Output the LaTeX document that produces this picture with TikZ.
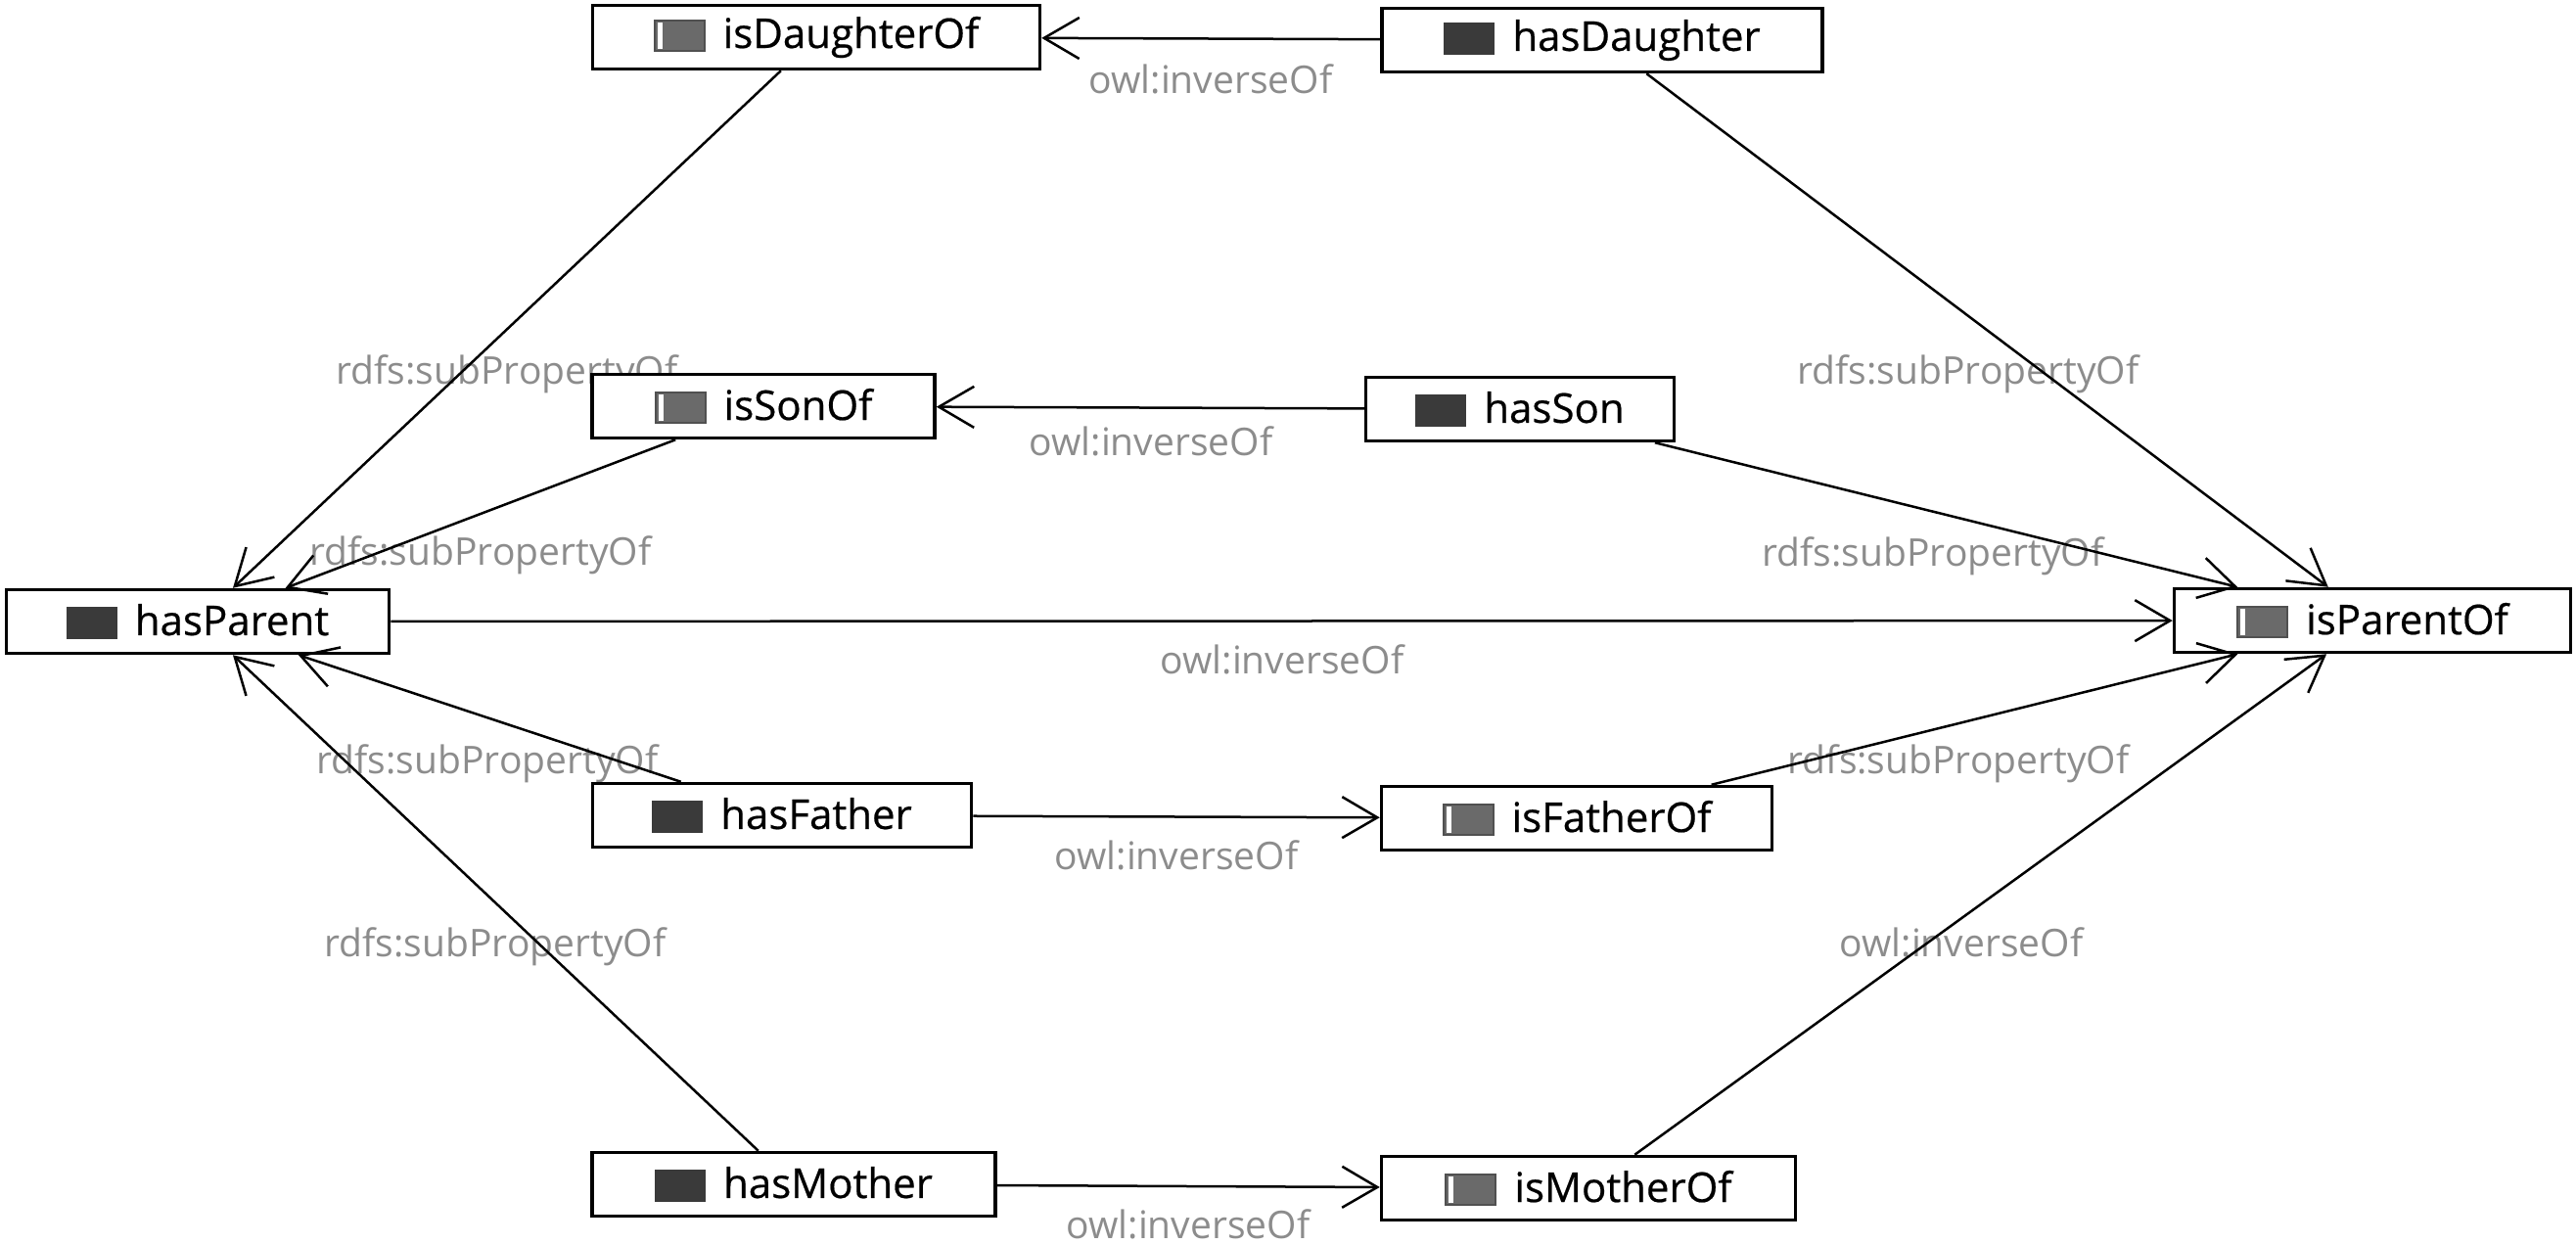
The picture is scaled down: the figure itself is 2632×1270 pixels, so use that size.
\documentclass[tikz,border=0pt]{standalone}
\usepackage{fontspec}
\setmainfont{Open Sans}
\newfontfamily\propfont{Open Sans}[FakeBold=0.5]
\usetikzlibrary{arrows.meta}
\definecolor{hasfill}{HTML}{3A3A3A}
\definecolor{isfill}{HTML}{6A6A6A}
\definecolor{isedge}{HTML}{505050}
\definecolor{lblgray}{HTML}{8C8C8C}
\newcommand{\hasicon}{\raisebox{-4pt}{\textcolor{hasfill}{\rule{52pt}{33pt}}}}
\newcommand{\isicon}{\raisebox{-4pt}{\rlap{\textcolor{isedge}{\rule{53pt}{33pt}}}\rlap{\hspace{2pt}\raisebox{2pt}{\textcolor{isfill}{\rule{49pt}{29pt}}}}\hspace{4pt}\raisebox{3pt}{\textcolor{white}{\rule{5pt}{27pt}}}\hspace{44pt}}}
\begin{document}
\begin{tikzpicture}[x=1pt,y=-1pt,
  prop/.style={draw, fill=white, line width=3.5pt, minimum height=65pt, inner sep=0pt, font=\propfont\fontsize{42}{50}\selectfont},
  rel/.style={line width=2.5pt, -{Straight Barb[length=36pt,width=42pt,line width=2.5pt]}},
  lbl/.style={anchor=base, text=lblgray, inner sep=0pt, font=\fontsize{39}{47}\selectfont}]
\useasboundingbox (0,0) rectangle (2632,1270);
% labels (under the connectors)
\node[lbl] (li1) at (1237,95) {owl:inverseOf};
\node[lbl] (li2) at (1176,465) {owl:inverseOf};
\node[lbl] (li3) at (1310,688) {owl:inverseOf};
\node[lbl] (li4) at (1202,888) {owl:inverseOf};
\node[lbl] (li5) at (1214,1265) {owl:inverseOf};
\node[lbl] (ls1) at (518,392) {rdfs:subPropertyOf};
\node[lbl] (ls2) at (491,577) {rdfs:subPropertyOf};
\node[lbl] (ls3) at (498,790) {rdfs:subPropertyOf};
\node[lbl] (ls4) at (506,977) {rdfs:subPropertyOf};
\node[lbl] (ls5) at (2011,392) {rdfs:subPropertyOf};
\node[lbl] (ls6) at (1975,578) {rdfs:subPropertyOf};
\node[lbl] (ls7) at (2001,790) {rdfs:subPropertyOf};
\node[lbl] (li6) at (2004,977) {owl:inverseOf};
% nodes
\node[prop, minimum width=457pt] (isDaughterOf) at (834,38) {\isicon\hspace{18pt}isDaughterOf};
\node[prop, minimum width=450pt] (hasDaughter) at (1637,41) {\hasicon\hspace{18pt}hasDaughter};
\node[prop, minimum width=350pt] (isSonOf) at (780,415) {\isicon\hspace{18pt}isSonOf};
\node[prop, minimum width=315pt] (hasSon) at (1553,418) {\hasicon\hspace{18pt}hasSon};
\node[prop, minimum width=391pt] (hasParent) at (202,635) {\hasicon\hspace{18pt}hasParent};
\node[prop, minimum width=405pt] (isParentOf) at (2424,634) {\isicon\hspace{18pt}isParentOf};
\node[prop, minimum width=387pt] (hasFather) at (799,833) {\hasicon\hspace{18pt}hasFather};
\node[prop, minimum width=399pt] (isFatherOf) at (1611,836) {\isicon\hspace{18pt}isFatherOf};
\node[prop, minimum width=412pt] (hasMother) at (811,1210) {\hasicon\hspace{18pt}hasMother};
\node[prop, minimum width=423pt] (isMotherOf) at (1623,1214) {\isicon\hspace{18pt}isMotherOf};
% connectors
\draw[rel] (hasDaughter) -- (isDaughterOf);
\draw[rel] (hasSon) -- (isSonOf);
\draw[rel] (hasParent) -- (isParentOf);
\draw[rel] (hasFather) -- (isFatherOf);
\draw[rel] (hasMother) -- (isMotherOf);
\draw[rel] (isDaughterOf) -- (hasParent);
\draw[rel] (isSonOf) -- (hasParent);
\draw[rel] (hasFather) -- (hasParent);
\draw[rel] (hasMother) -- (hasParent);
\draw[rel] (hasDaughter) -- (isParentOf);
\draw[rel] (hasSon) -- (isParentOf);
\draw[rel] (isFatherOf) -- (isParentOf);
\draw[rel] (isMotherOf) -- (isParentOf);
\end{tikzpicture}
\end{document}
